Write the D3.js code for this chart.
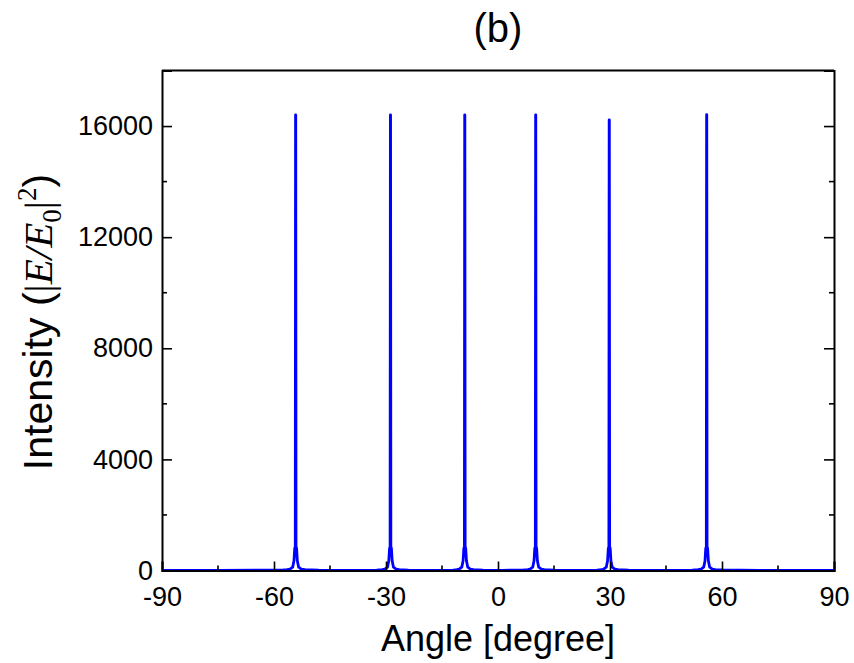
<!DOCTYPE html>
<html>
<head>
<meta charset="utf-8">
<script src="https://cdn.jsdelivr.net/npm/d3@7"></script>
<style>
  body { margin: 0; background: #fff; }
  svg { display: block; }
</style>
</head>
<body>
<svg id="chart"></svg>
<script>
// Axis ticks
const xTicks = [-90, -60, -30, 0, 30, 60, 90];
const xMinor = [-75, -45, -15, 15, 45, 75];
const yTicks = [0, 4000, 8000, 12000, 16000];
const yMinor = [2000, 6000, 10000, 14000];

// Curve: [angle, intensity]
const curve = [
  [-90, 0], [-75, 4], [-62, 10], [-57.5, 18], [-56.5, 30],
  // peak near -54.2
  [-55.7, 50], [-55.0, 120], [-54.65, 350], [-54.45, 800], [-54.3, 850],
  [-54.22, 16400], [-54.18, 16400],
  [-54.1, 850], [-53.95, 800], [-53.75, 350], [-53.4, 120], [-52.7, 50],
  [-51.7, 30], [-48, 15], [-40, 8], [-32.5, 14], [-31, 28],
  // peak near -28.8
  [-30.3, 50], [-29.6, 120], [-29.25, 350], [-29.05, 800], [-28.9, 850],
  [-28.82, 16400], [-28.78, 16400],
  [-28.7, 850], [-28.55, 800], [-28.35, 350], [-28.0, 120], [-27.3, 50],
  [-26.5, 28], [-24, 14], [-18, 8], [-12, 14], [-11, 28],
  // peak near -8.9
  [-10.4, 50], [-9.7, 120], [-9.35, 350], [-9.15, 800], [-9.0, 850],
  [-8.92, 16400], [-8.88, 16400],
  [-8.8, 850], [-8.65, 800], [-8.45, 350], [-8.1, 120], [-7.4, 50],
  [-6.6, 28], [-4, 14], [1, 8], [6.5, 14], [8, 28],
  // peak near 10.1
  [8.6, 50], [9.3, 120], [9.65, 350], [9.85, 800], [10.0, 850],
  [10.08, 16400], [10.12, 16400],
  [10.2, 850], [10.35, 800], [10.55, 350], [10.9, 120], [11.6, 50],
  [12.4, 28], [15, 14], [21, 8], [26.5, 14], [27.8, 28],
  // peak near 29.8
  [28.3, 50], [29.0, 120], [29.35, 350], [29.55, 800], [29.7, 850],
  [29.78, 16220], [29.82, 16220],
  [29.9, 850], [30.05, 800], [30.25, 350], [30.6, 120], [31.3, 50],
  [32.1, 28], [35, 14], [44, 8], [52, 15], [53.6, 30],
  // peak near 55.9
  [54.4, 50], [55.1, 120], [55.45, 350], [55.65, 800], [55.8, 850],
  [55.88, 16410], [55.92, 16410],
  [56.0, 850], [56.15, 800], [56.35, 350], [56.7, 120], [57.4, 50],
  [58.2, 30], [60, 18], [70, 8], [80, 4], [90, 0]
];

const W = 854, H = 663;
const margin = { top: 70.5, left: 162 };
const width = 834 - margin.left;
const height = 570.5 - margin.top;

const svg = d3.select("#chart").attr("width", W).attr("height", H);
const g = svg.append("g").attr("transform", `translate(${margin.left},${margin.top})`);

const x = d3.scaleLinear().domain([-90, 90]).range([0, width]);
const y = d3.scaleLinear().domain([0, 18000]).range([height, 0]);

const font = "'Liberation Sans', Arial, sans-serif";
const serif = "'Liberation Serif', 'Times New Roman', serif";
// plain hyphen for negatives, like the original
const fmt = (d) => String(d);

// Data line (drawn first, axes frame on top)
const line = d3.line().x((d) => x(d[0])).y((d) => y(d[1]));
g.append("path")
  .datum(curve)
  .attr("d", line)
  .attr("fill", "none")
  .attr("stroke", "#0000ff")
  .attr("stroke-width", 2.8)
  .attr("stroke-linejoin", "round");

// Bottom axis: inward ticks
const xAxis = g.append("g")
  .attr("transform", `translate(0,${height})`)
  .call(d3.axisBottom(x).tickValues(xTicks).tickSize(-9).tickPadding(16).tickFormat(fmt));
xAxis.append("g").selectAll("line").data(xMinor).join("line")
  .attr("x1", (d) => x(d)).attr("x2", (d) => x(d))
  .attr("y1", 0).attr("y2", -5)
  .attr("stroke", "#000");

// Left axis
const yAxis = g.append("g")
  .call(d3.axisLeft(y).tickValues(yTicks).tickSize(-10).tickPadding(9).tickFormat(fmt));
yAxis.append("g").selectAll("line").data(yMinor).join("line")
  .attr("x1", 0).attr("x2", 5)
  .attr("y1", (d) => y(d)).attr("y2", (d) => y(d))
  .attr("stroke", "#000");

// Right axis: mirrored ticks, no labels
const yRight = g.append("g")
  .attr("transform", `translate(${width},0)`)
  .call(d3.axisRight(y).tickValues(yTicks).tickSize(-10).tickFormat(""));
yRight.append("g").selectAll("line").data(yMinor).join("line")
  .attr("x1", 0).attr("x2", -5)
  .attr("y1", (d) => y(d)).attr("y2", (d) => y(d))
  .attr("stroke", "#000");

// Top border
g.append("line")
  .attr("x1", 0).attr("x2", width).attr("y1", 0).attr("y2", 0)
  .attr("stroke", "#000").attr("stroke-width", 2);

[xAxis, yAxis, yRight].forEach((a) => {
  a.select(".domain").attr("stroke", "#000").attr("stroke-width", 2);
  a.selectAll("line").attr("stroke", "#000").attr("stroke-width", 1.6);
  a.selectAll("text").attr("font-family", font).attr("font-size", 27).attr("fill", "#000");
});

// Titles
svg.append("text")
  .attr("x", margin.left + width / 2).attr("y", 42)
  .attr("text-anchor", "middle")
  .attr("font-family", font).attr("font-size", 40)
  .text("(b)");

svg.append("text")
  .attr("x", margin.left + width / 2).attr("y", 651)
  .attr("text-anchor", "middle")
  .attr("font-family", font).attr("font-size", 36)
  .text("Angle [degree]");

const yt = svg.append("text")
  .attr("transform", `translate(52,322) rotate(-90)`)
  .attr("text-anchor", "middle")
  .attr("font-family", font).attr("font-size", 41);
yt.append("tspan").text("Intensity (");
yt.append("tspan").attr("font-family", serif).text("|");
yt.append("tspan").attr("font-family", serif).attr("font-style", "italic").text("E/E");
yt.append("tspan").attr("font-family", serif).attr("font-size", 27).attr("dy", 9).text("0");
yt.append("tspan").attr("font-family", serif).attr("dy", -9).text("|");
yt.append("tspan").attr("font-family", serif).attr("font-size", 27).attr("dy", -16).text("2");
yt.append("tspan").attr("dy", 16).text(")");
</script>
</body>
</html>
